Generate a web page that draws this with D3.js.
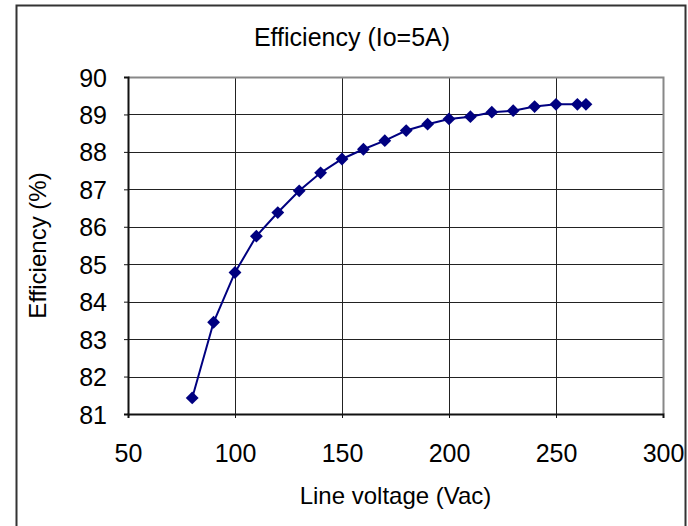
<!DOCTYPE html>
<html>
<head>
<meta charset="utf-8">
<script src="https://cdn.jsdelivr.net/npm/d3@7"></script>
<style>
  body { margin: 0; background: #fff; }
  text { font-family: Arial, "Liberation Sans", sans-serif; fill: #000; }
</style>
</head>
<body>
<script>
// data
var voltage = [80, 90, 100, 110, 120, 130, 140, 150, 160, 170, 180, 190, 200, 210, 220, 230, 240, 250, 260, 264];
var efficiency = [81.43, 83.45, 84.78, 85.75, 86.38, 86.96, 87.44, 87.81, 88.07, 88.30, 88.57, 88.74, 88.88, 88.94, 89.06, 89.10, 89.21, 89.27, 89.27, 89.27];
var xTicks = [50, 100, 150, 200, 250, 300];
var yTicks = [81, 82, 83, 84, 85, 86, 87, 88, 89, 90];

var width = 688, height = 526;
var plot = {left: 128, top: 77, right: 663, bottom: 414};

var svg = d3.select("body").append("svg")
	.attr("width", width)
	.attr("height", height);

// outer chart frame
svg.append("rect")
	.attr("x", 16.5).attr("y", 5.5)
	.attr("width", 669).attr("height", 530)
	.attr("fill", "none")
	.attr("stroke", "#333")
	.attr("stroke-width", 2);

var x = d3.scaleLinear().domain([50, 300]).range([plot.left, plot.right]);
var y = d3.scaleLinear().domain([81, 90]).range([plot.bottom, plot.top]);

// grid
svg.append("g").selectAll("line")
	.data(yTicks.slice(1, -1))
	.enter().append("line")
		.attr("x1", plot.left).attr("x2", plot.right)
		.attr("y1", function(d) { return Math.round(y(d)) + 0.5; })
		.attr("y2", function(d) { return Math.round(y(d)) + 0.5; })
		.attr("stroke", "#222");

svg.append("g").selectAll("line")
	.data(xTicks.slice(1, -1))
	.enter().append("line")
		.attr("y1", plot.top).attr("y2", plot.bottom)
		.attr("x1", function(d) { return Math.round(x(d)) + 0.5; })
		.attr("x2", function(d) { return Math.round(x(d)) + 0.5; })
		.attr("stroke", "#222");

// top and right border of plot area
svg.append("path")
	.attr("d", "M" + plot.left + "," + (plot.top + 0.5) + "H" + (plot.right + 0.5) + "V" + plot.bottom)
	.attr("fill", "none")
	.attr("stroke", "#888")
	.attr("stroke-width", 2);

// axes
var xAxis = svg.append("g")
	.attr("transform", "translate(0," + plot.bottom + ")")
	.call(d3.axisBottom(x).tickValues(xTicks).tickSize(4).tickPadding(26));

var yAxis = svg.append("g")
	.attr("transform", "translate(" + plot.left + ",0)")
	.call(d3.axisLeft(y).tickValues(yTicks).tickSize(4).tickPadding(17));

[xAxis, yAxis].forEach(function(a) {
	a.select(".domain").attr("stroke", "#111").attr("stroke-width", 2);
	a.selectAll(".tick line").attr("stroke", "#111");
	a.selectAll("text")
		.attr("font-family", "Arial, 'Liberation Sans', sans-serif")
		.attr("font-size", 25)
		.attr("fill", "#000");
});
yAxis.selectAll(".tick text").attr("dy", "0.36em");

// series line
var line = d3.line()
	.x(function(d, i) { return x(voltage[i]); })
	.y(function(d) { return y(d); });

svg.append("path")
	.datum(efficiency)
	.attr("d", line)
	.attr("fill", "none")
	.attr("stroke", "#000080")
	.attr("stroke-width", 2);

var diamond = d3.symbol().type(d3.symbolDiamond2).size(105);
svg.append("g").selectAll("path")
	.data(efficiency)
	.enter().append("path")
		.attr("d", diamond)
		.attr("transform", function(d, i) { return "translate(" + x(voltage[i]) + "," + y(d) + ")"; })
		.attr("fill", "#000080");

// titles
svg.append("text")
	.attr("x", 352).attr("y", 46)
	.attr("text-anchor", "middle")
	.attr("font-size", 25)
	.text("Efficiency (Io=5A)");

svg.append("text")
	.attr("x", (plot.left + plot.right) / 2).attr("y", 504)
	.attr("text-anchor", "middle")
	.attr("font-size", 24)
	.text("Line voltage (Vac)");

svg.append("text")
	.attr("transform", "translate(46," + (plot.top + plot.bottom) / 2 + ") rotate(-90)")
	.attr("text-anchor", "middle")
	.attr("font-size", 24)
	.text("Efficiency (%)");
</script>
</body>
</html>
